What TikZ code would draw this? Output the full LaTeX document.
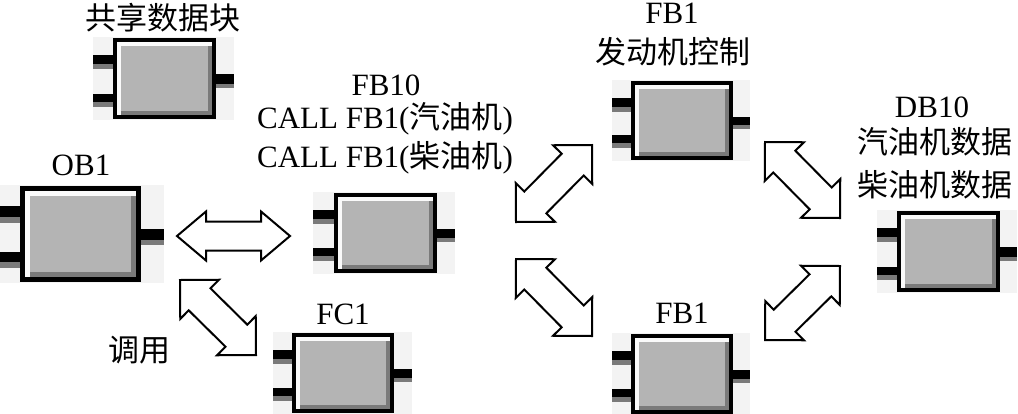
\documentclass[tikz,border=0pt]{standalone}
\usepackage{fontspec}
\setmainfont{Liberation Serif}
\newfontfamily\cjk{Noto Sans CJK SC}
\usetikzlibrary{calc}

\definecolor{blkfill}{RGB}{180,180,180}
\definecolor{blkshadow}{RGB}{122,122,122}
\definecolor{pingrey}{RGB}{122,122,122}
\definecolor{blkbg}{RGB}{243,243,243}
\definecolor{blkhl}{RGB}{250,250,250}

\tikzset{
  blockbox/.style={fill=black, draw=none, inner sep=0pt, outer sep=0pt},
  hollow/.style={draw=black, fill=white, line width=2pt, line join=miter},
  lbl/.style={inner sep=0pt, font=\fontsize{31}{36}\selectfont},
}

% name, x, y, w, h, pinL, pinR, t
\newcommand\plcblock[8]{%
  \fill[blkbg] ({#2-#6},{#3-1}) rectangle ({#2+#4+#7},{#3+#5+1});
  \fill[black] ({#2-#6},{#3+0.2125*#5}) rectangle (#2,{#3+0.325*#5});
  \fill[pingrey] ({#2-#6},{#3+0.325*#5}) rectangle (#2,{#3+0.3875*#5});
  \fill[black] ({#2-#6},{#3+0.6875*#5}) rectangle (#2,{#3+0.7875*#5});
  \fill[pingrey] ({#2-#6},{#3+0.7875*#5}) rectangle (#2,{#3+0.85*#5});
  \fill[black] ({#2+#4},{#3+0.45*#5}) rectangle ({#2+#4+#7},{#3+0.5625*#5});
  \fill[pingrey] ({#2+#4},{#3+0.5625*#5}) rectangle ({#2+#4+#7},{#3+0.6125*#5});
  \node[blockbox, minimum width=#4pt, minimum height=#5pt, anchor=north west] (#1) at (#2,#3) {};
  \fill[blkhl] ({#2+#8},{#3+#8}) rectangle ({#2+#4-#8},{#3+#5-#8});
  \fill[blkshadow] ({#2+2*#8},{#3+2*#8}) rectangle ({#2+#4-#8},{#3+#5-#8});
  \fill[blkfill] ({#2+2*#8},{#3+2*#8}) rectangle ({#2+#4-2*#8},{#3+#5-2*#8});
}

% A, B, head length, head half width, shaft half width
\newcommand\hollowarrow[5]{%
  \draw[hollow] (#1)
    -- ($(#1)!#3!(#2)!#4!90:(#2)$)
    -- ($(#1)!#3!(#2)!#5!90:(#2)$)
    -- ($(#2)!#3!(#1)!#5!-90:(#1)$)
    -- ($(#2)!#3!(#1)!#4!-90:(#1)$)
    -- (#2)
    -- ($(#2)!#3!(#1)!#4!90:(#1)$)
    -- ($(#2)!#3!(#1)!#5!90:(#1)$)
    -- ($(#1)!#3!(#2)!#5!-90:(#2)$)
    -- ($(#1)!#3!(#2)!#4!-90:(#2)$)
    -- cycle;
}

\begin{document}
\begin{tikzpicture}[x=1pt, y=-1pt]
\useasboundingbox (0,0) rectangle (1018,413);
\fill[white] (0,0) rectangle (1018,413);

% blocks
\plcblock{shared}{113}{38}{103}{81}{20}{18}{4}
\plcblock{ob1}{20}{186}{121}{96}{20}{23}{5}
\plcblock{fb10}{334}{193}{103}{80}{21}{18}{4}
\plcblock{fc1}{292}{333}{102}{80}{19}{18}{4}
\plcblock{fb1top}{631}{81}{102}{79}{19}{17}{4}
\plcblock{fb1bot}{631}{334}{102}{80}{19}{17}{4}
\plcblock{db10}{897}{211}{103}{81}{20}{17}{4}

% arrow tips
\coordinate (h1a) at (177,236);
\coordinate (h1b) at (290,236);
\coordinate (d1a) at (180,280);
\coordinate (d1b) at (256,355);
\coordinate (d2a) at (516,222);
\coordinate (d2b) at (592,145);
\coordinate (d3a) at (516,259);
\coordinate (d3b) at (592,336);
\coordinate (d4a) at (765,142);
\coordinate (d4b) at (840,218);
\coordinate (d5a) at (765,340);
\coordinate (d5b) at (840,266);

\hollowarrow{h1a}{h1b}{29pt}{24.5pt}{14.5pt}
\hollowarrow{d1a}{d1b}{27.5pt}{27.5pt}{15.5pt}
\hollowarrow{d2a}{d2b}{27.5pt}{27.5pt}{15.5pt}
\hollowarrow{d3a}{d3b}{27.5pt}{27.5pt}{15.5pt}
\hollowarrow{d4a}{d4b}{27.5pt}{27.5pt}{15.5pt}
\hollowarrow{d5a}{d5b}{27.5pt}{27.5pt}{15.5pt}

% labels
\node[lbl, anchor=center] (tshared) at (163,18) {\cjk 共享数据块};
\node[lbl, anchor=base] (tob1) at (81,175) {OB1};
\node[lbl, anchor=base] (tfb10) at (386,95) {FB10};
\node[lbl, anchor=base] (tcall1) at (385,128) {CALL FB1({\cjk 汽油机})};
\node[lbl, anchor=base] (tcall2) at (385,167) {CALL FB1({\cjk 柴油机})};
\node[lbl, anchor=base] (tfc1) at (343,324) {FC1};
\node[lbl, anchor=center] (tcall) at (139,350) {\cjk 调用};
\node[lbl, anchor=base] (tfb1a) at (672,23) {FB1};
\node[lbl, anchor=center] (tengine) at (673,52) {\cjk 发动机控制};
\node[lbl, anchor=base] (tdb10) at (932,117) {DB10};
\node[lbl, anchor=center] (tpetrol) at (935,142) {\cjk 汽油机数据};
\node[lbl, anchor=center] (tdiesel) at (935,185) {\cjk 柴油机数据};
\node[lbl, anchor=base] (tfb1b) at (682,323) {FB1};
\end{tikzpicture}
\end{document}
